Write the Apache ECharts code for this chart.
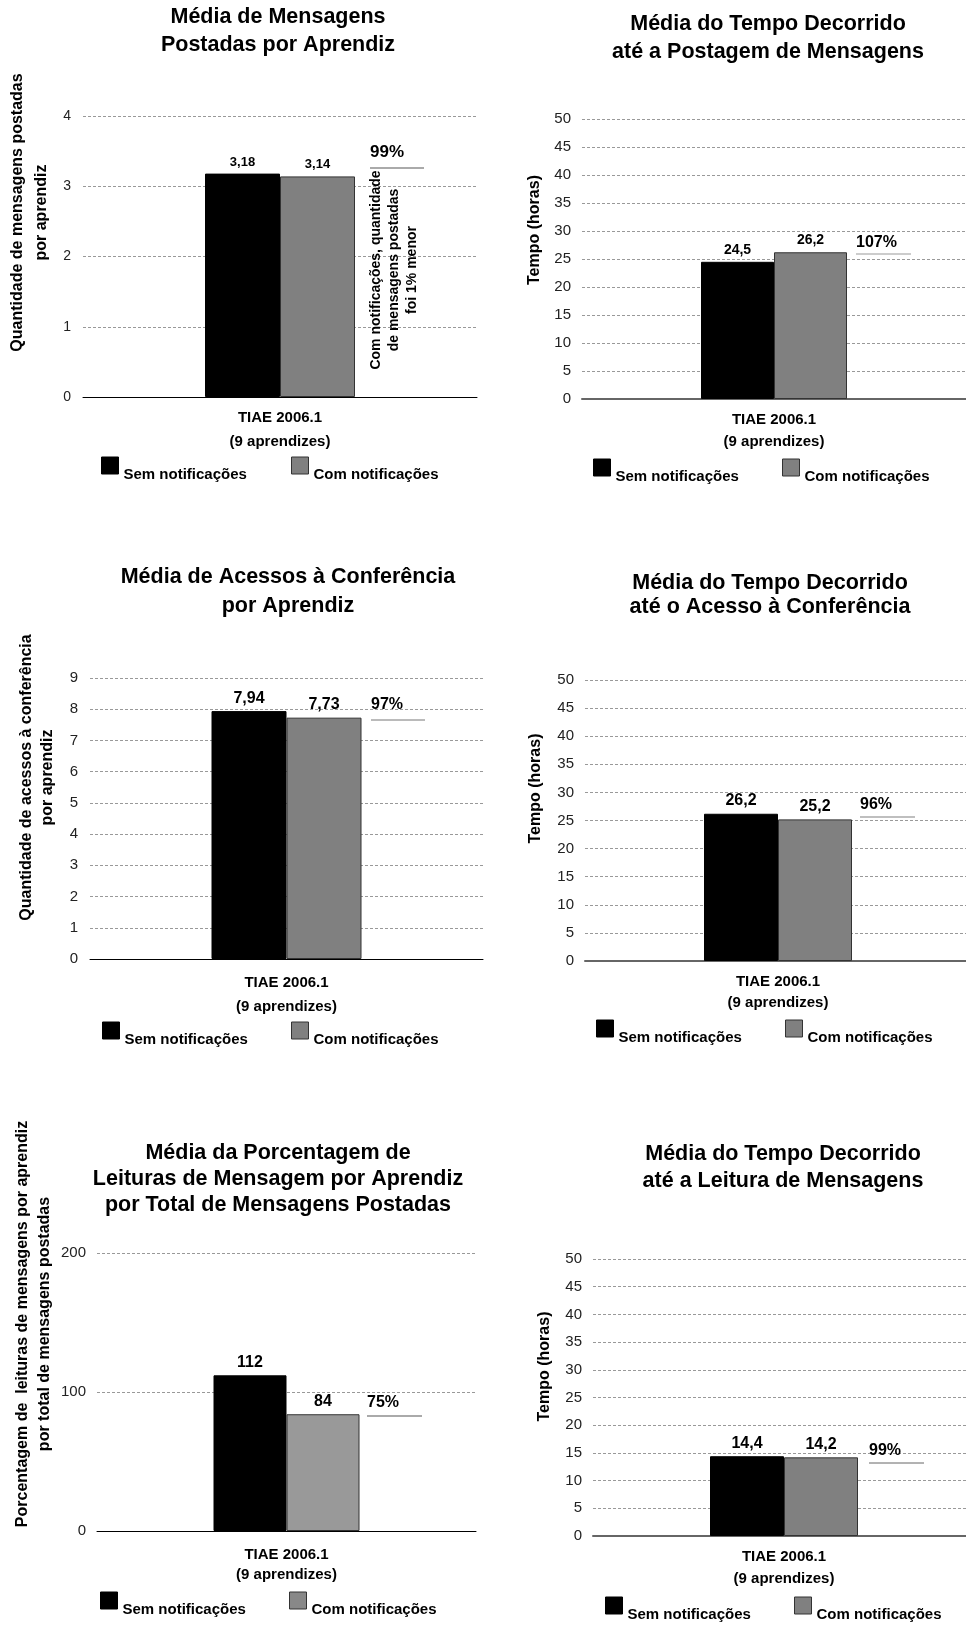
<!DOCTYPE html>
<html><head><meta charset="utf-8">
<script src="https://cdn.jsdelivr.net/npm/echarts@6/dist/echarts.min.js"></script>
<style>html,body{margin:0;padding:0;background:#fff}#c{width:966px;height:1629px}</style>
</head><body><div id="c"></div>
<script>
// ---------- data ----------
const categories = ['TIAE 2006.1\n(9 aprendizes)'];
const seriesNames = ['Sem notificações', 'Com notificações'];
const titles = [
  'Média de Mensagens\nPostadas por Aprendiz',
  'Média do Tempo Decorrido\naté a Postagem de Mensagens',
  'Média de Acessos à Conferência\npor Aprendiz',
  'Média do Tempo Decorrido\naté o Acesso à Conferência',
  'Média da Porcentagem de\nLeituras de Mensagem por Aprendiz\npor Total de Mensagens Postadas',
  'Média do Tempo Decorrido\naté a Leitura de Mensagens'
];
const yNames = [
  'Quantidade de mensagens postadas\npor aprendiz',
  'Tempo (horas)',
  'Quantidade de acessos à conferência\npor aprendiz',
  'Tempo (horas)',
  'Porcentagem de  leituras de mensagens por aprendiz\npor total de mensagens postadas',
  'Tempo (horas)'
];
const semValues = [3.18, 24.5, 7.94, 26.2, 112, 14.4];
const comValues = [3.14, 26.2, 7.73, 25.2, 84, 14.2];
const ratioLabels = ['99%', '107%', '97%', '96%', '75%', '99%'];
const yMax = [4, 50, 9, 50, 200, 50];
const yInterval = [1, 5, 1, 5, 100, 5];
const noteText = 'Com notificações, quantidade\nde mensagens postadas\nfoi 1% menor';

// ---------- layout / style ----------
const FONT = '"Liberation Sans", Arial, sans-serif';
const panels = [
  {grid:{left:83,right:489,top:116,bottom:1232}, barW:75, title:{x:278,top:3,lh:28},
   yName:{gap:29,lh:24,pad:88}, yLab:{margin:12,pad:16,size:14}, xLab:{margin:9,lh:24},
   axis:{color:'#000',w:1}, gray:'#808080', legGray:'#808080', valSize:13,
   ratio:{x:370,y:152,size:17,x2:424,ly:168,lc:'#aaa',lw:2}, legend:{y:457,x1:101,x2:291}},
  {grid:{left:582,right:0,top:119,bottom:1230}, barW:73, title:{x:768,top:10,lh:28},
   yName:{gap:37,lh:20,pad:58}, yLab:{margin:11,pad:12,size:15}, xLab:{margin:10,lh:22},
   axis:{color:'#666',w:2}, gray:'#808080', legGray:'#808080', valSize:14,
   ratio:{x:856,y:243,size:16,x2:911,ly:254,lc:'#999',lw:1}, legend:{y:459,x1:593,x2:782}},
  {grid:{left:90,right:483,top:678,bottom:670}, barW:75, title:{x:288,top:563,lh:29},
   yName:{gap:32,lh:21,pad:82}, yLab:{margin:12,pad:6,size:15}, xLab:{margin:12,lh:24},
   axis:{color:'#000',w:1}, gray:'#808080', legGray:'#808080', valSize:16,
   ratio:{x:371,y:705,size:16,x2:425,ly:720,lc:'#777',lw:1}, legend:{y:1022,x1:102,x2:291}},
  {grid:{left:585,right:-5,top:680,bottom:668}, barW:74, title:{x:770,top:571,lh:24},
   yName:{gap:39,lh:20,pad:64}, yLab:{margin:11,pad:12,size:15}, xLab:{margin:10,lh:21},
   axis:{color:'#666',w:2}, gray:'#808080', legGray:'#808080', valSize:16,
   ratio:{x:860,y:805,size:16,x2:915,ly:817,lc:'#aaa',lw:1.5}, legend:{y:1020,x1:596,x2:785}},
  {grid:{left:97,right:490,top:1253,bottom:98}, barW:73, title:{x:278,top:1140,lh:26},
   yName:{gap:41,lh:22,pad:136}, yLab:{margin:11,pad:16,size:15}, xLab:{margin:14,lh:20},
   axis:{color:'#000',w:1}, gray:'#999999', legGray:'#888888', valSize:16,
   ratio:{x:367,y:1403,size:16,x2:422,ly:1416,lc:'#aaa',lw:2}, legend:{y:1592,x1:100,x2:289}},
  {grid:{left:593,right:-9,top:1259,bottom:93}, barW:74, title:{x:783,top:1141,lh:27},
   yName:{gap:38,lh:20,pad:62}, yLab:{margin:11,pad:12,size:15}, xLab:{margin:10,lh:22},
   axis:{color:'#666',w:2}, gray:'#808080', legGray:'#808080', valSize:16,
   ratio:{x:869,y:1451,size:16,x2:924,ly:1463,lc:'#666',lw:1}, legend:{y:1597,x1:605,x2:794}}
];

const fmt = p => String(p.value).replace('.', ',');
const LEG_LH = 19;

const option = {
  backgroundColor: '#fff',
  animation: false,
  title: panels.map((p, i) => ({
    text: titles[i], left: p.title.x, top: p.title.top, textAlign: 'center', padding: 0,
    textStyle: {fontFamily: FONT, fontWeight: 'bold', fontSize: 21.5, lineHeight: p.title.lh, color: '#000'}
  })),
  grid: panels.map(p => Object.assign({containLabel: false, outerBoundsMode: 'none'}, p.grid)),
  xAxis: panels.map((p, i) => ({
    type: 'category', gridIndex: i, data: categories,
    axisLine: {show: true, lineStyle: {color: p.axis.color, width: p.axis.w}},
    axisTick: {show: false},
    axisLabel: {fontFamily: FONT, fontWeight: 'bold', fontSize: 15, lineHeight: p.xLab.lh,
                margin: p.xLab.margin, color: '#000'}
  })),
  yAxis: panels.map((p, i) => ({
    type: 'value', gridIndex: i, min: 0, max: yMax[i], interval: yInterval[i],
    name: yNames[i], nameLocation: 'middle', nameRotate: 90, nameGap: p.yName.gap,
    nameTextStyle: {fontFamily: FONT, fontWeight: 'bold', fontSize: 16, lineHeight: p.yName.lh,
                    color: '#000', padding: [0, 0, 0, p.yName.pad]},
    axisLine: {show: false}, axisTick: {show: false},
    axisLabel: {fontFamily: FONT, fontSize: p.yLab.size, color: '#222', margin: p.yLab.margin,
                padding: [0, 0, p.yLab.pad, 0]},
    splitLine: {show: true, lineStyle: {color: '#999', width: 1, type: [3, 2]}}
  })),
  legend: panels.flatMap(p => seriesNames.map((n, k) => ({
    data: [n], left: k ? p.legend.x2 : p.legend.x1, top: p.legend.y - (LEG_LH - 8.5),
    icon: 'rect', itemWidth: 17, itemHeight: 17, padding: 0, itemGap: 0, selectedMode: false,
    formatter: name => '\n' + name,
    itemStyle: {color: k ? p.legGray : '#000', borderColor: k ? '#333' : '#000', borderWidth: 1},
    textStyle: {fontFamily: FONT, fontWeight: 'bold', fontSize: 15, lineHeight: LEG_LH, color: '#000'}
  }))),
  series: panels.flatMap((p, i) => [
    {name: seriesNames[0], type: 'bar', xAxisIndex: i, yAxisIndex: i, data: [semValues[i]],
     barWidth: p.barW, barGap: '0%',
     itemStyle: {color: '#000', borderColor: '#000', borderWidth: 1},
     label: {show: true, position: 'top', distance: 5, formatter: fmt,
             fontFamily: FONT, fontWeight: 'bold', fontSize: p.valSize, color: '#000'}},
    {name: seriesNames[1], type: 'bar', xAxisIndex: i, yAxisIndex: i, data: [comValues[i]],
     barWidth: p.barW, barGap: '0%',
     itemStyle: {color: p.gray, borderColor: '#333', borderWidth: 1},
     label: {show: true, position: 'top', distance: 5, formatter: fmt,
             fontFamily: FONT, fontWeight: 'bold', fontSize: p.valSize, color: '#000'}}
  ]),
  graphic: panels.flatMap((p, i) => [
    {type: 'text', x: p.ratio.x, y: p.ratio.y, z: 10,
     style: {text: ratioLabels[i], fontFamily: FONT, fontWeight: 'bold', fontSize: p.ratio.size,
             fill: '#000', align: 'left', verticalAlign: 'middle'}},
    {type: 'line', z: 10, shape: {x1: p.ratio.x, y1: p.ratio.ly, x2: p.ratio.x2, y2: p.ratio.ly},
     style: {stroke: p.ratio.lc, lineWidth: p.ratio.lw}}
  ]).concat([
    {type: 'text', x: 394, y: 270, rotation: Math.PI / 2, z: 10,
     style: {text: noteText, fontFamily: FONT, fontWeight: 'bold', fontSize: 14, lineHeight: 18,
             fill: '#000', align: 'center', verticalAlign: 'middle'}}
  ])
};

const chart = echarts.init(document.getElementById('c'), null, {renderer: 'canvas'});
chart.setOption(option);
</script>
</body></html>
